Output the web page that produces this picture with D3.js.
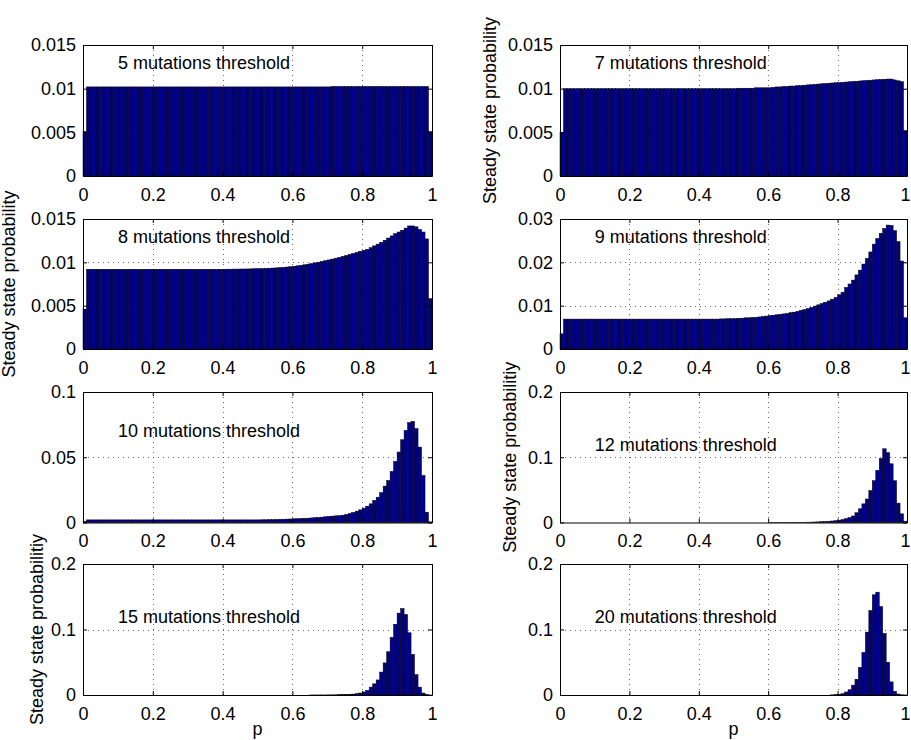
<!DOCTYPE html>
<html><head><meta charset="utf-8">
<script src="https://cdn.jsdelivr.net/npm/d3@7"></script>
<style>body{margin:0;background:#fff}svg{display:block}</style>
</head><body><svg id="c" width="911" height="740"></svg>
<script>
// Steady state probability per bin (100 bins of width 0.01 on p in [0,1])
const prob5 = [
0.0051,0.0102,0.0102,0.0102,0.0102,0.0102,0.0102,0.0102,0.0102,0.0102,
0.0102,0.0102,0.0102,0.0102,0.0102,0.0102,0.0102,0.0102,0.0102,0.0102,
0.0102,0.0102,0.0102,0.0102,0.0102,0.0102,0.0102,0.0102,0.0102,0.0102,
0.0102,0.0102,0.0102,0.0102,0.0102,0.0102,0.0102,0.0102,0.0102,0.0102,
0.0102,0.0102,0.0102,0.0102,0.0102,0.0102,0.0102,0.0102,0.0102,0.0102,
0.0102,0.0102,0.0102,0.0102,0.0102,0.0102,0.0102,0.0102,0.0102,0.0102,
0.0102,0.0102,0.0102,0.0102,0.0102,0.0102,0.0102,0.0102,0.0102,0.0102,
0.0102,0.01025,0.01025,0.01025,0.01025,0.01025,0.01025,0.01025,0.01025,0.01025,
0.01025,0.01025,0.01025,0.01025,0.01025,0.01025,0.01025,0.01025,0.01025,0.01025,
0.01025,0.01025,0.01025,0.01025,0.01025,0.01025,0.01025,0.01025,0.01025,0.0051];
const prob7 = [
0.0050,0.0100,0.0100,0.0100,0.0100,0.0100,0.0100,0.0100,0.0100,0.0100,
0.0100,0.0100,0.0100,0.0100,0.0100,0.0100,0.0100,0.0100,0.0100,0.0100,
0.0100,0.0100,0.0100,0.0100,0.0100,0.0100,0.0100,0.0100,0.0100,0.0100,
0.0100,0.0100,0.0100,0.0100,0.0100,0.0100,0.0100,0.0100,0.0100,0.0100,
0.0100,0.0100,0.0100,0.0100,0.0100,0.0100,0.0100,0.0100,0.0100,0.0100,
0.0100,0.01005,0.01005,0.01005,0.01005,0.01005,0.0101,0.0101,0.0101,0.0101,
0.0101,0.01015,0.0102,0.0102,0.01025,0.01025,0.0103,0.0103,0.01035,0.01035,
0.0104,0.01043,0.01046,0.0105,0.01053,0.01056,0.01059,0.01062,0.01065,0.01068,
0.0107,0.01073,0.01076,0.01079,0.01082,0.01085,0.01088,0.01091,0.01094,0.01097,
0.0110,0.01103,0.01106,0.01108,0.0111,0.0111,0.0110,0.0109,0.0108,0.0052];
const prob8 = [
0.0046,0.0092,0.0092,0.0092,0.0092,0.0092,0.0092,0.0092,0.0092,0.0092,
0.0092,0.0092,0.0092,0.0092,0.0092,0.0092,0.0092,0.0092,0.0092,0.0092,
0.0092,0.0092,0.0092,0.0092,0.0092,0.0092,0.0092,0.0092,0.0092,0.0092,
0.0092,0.0092,0.0092,0.0092,0.0092,0.0092,0.0092,0.0092,0.0092,0.0092,
0.0092,0.00921,0.00921,0.00922,0.00922,0.00923,0.00923,0.00924,0.00925,0.00926,
0.00927,0.00928,0.0093,0.00932,0.00934,0.00936,0.00939,0.00942,0.00946,0.0095,
0.00955,0.0096,0.00966,0.00972,0.00979,0.00986,0.00994,0.01002,0.0101,0.01019,
0.01028,0.01038,0.01048,0.01058,0.01069,0.0108,0.01091,0.01103,0.01115,0.01127,
0.01139,0.0115,0.0117,0.0119,0.0121,0.0123,0.01255,0.0128,0.01305,0.0133,
0.0135,0.0137,0.01395,0.0142,0.0142,0.0141,0.0138,0.0135,0.0127,0.0058];
const prob9 = [
0.0035,0.0069,0.0069,0.0069,0.0069,0.0069,0.0069,0.0069,0.0069,0.0069,
0.0069,0.0069,0.0069,0.0069,0.0069,0.0069,0.0069,0.0069,0.0069,0.0069,
0.0069,0.0069,0.0069,0.0069,0.0069,0.0069,0.0069,0.0069,0.0069,0.0069,
0.0069,0.0069,0.0069,0.0069,0.0069,0.0069,0.0069,0.0069,0.0069,0.0069,
0.0069,0.0069,0.0069,0.0069,0.0069,0.0069,0.00695,0.00695,0.0070,0.0070,
0.0070,0.0071,0.0071,0.0072,0.0072,0.0073,0.0073,0.0074,0.0075,0.0076,
0.0077,0.0078,0.0079,0.0080,0.0081,0.0082,0.0084,0.0085,0.0087,0.0089,
0.0091,0.0093,0.0096,0.0099,0.0102,0.0105,0.0108,0.0111,0.0115,0.0119,
0.0125,0.0131,0.0142,0.0150,0.0159,0.0171,0.0182,0.0196,0.0209,0.0224,
0.0242,0.0255,0.0267,0.0278,0.0286,0.0285,0.0273,0.0248,0.0203,0.0072];
const prob10 = [
0.0010,0.0020,0.0020,0.0020,0.0020,0.0020,0.0020,0.0020,0.0020,0.0020,
0.0020,0.0020,0.0020,0.0020,0.0020,0.0020,0.0020,0.0020,0.0020,0.0020,
0.0020,0.0020,0.0020,0.0020,0.0020,0.0020,0.0020,0.0020,0.0020,0.0020,
0.0020,0.0020,0.0020,0.0020,0.0020,0.0020,0.0020,0.0020,0.0020,0.0020,
0.0020,0.0020,0.0020,0.0020,0.0020,0.0020,0.0020,0.0020,0.0020,0.0020,
0.0020,0.0021,0.0021,0.0022,0.0022,0.0023,0.0024,0.0025,0.0026,0.0027,
0.0028,0.0029,0.0030,0.0032,0.0033,0.0035,0.0037,0.0039,0.0041,0.0044,
0.0047,0.0049,0.0051,0.0053,0.0056,0.0062,0.0069,0.0077,0.0087,0.0097,
0.0110,0.0125,0.0143,0.0169,0.0194,0.0228,0.0279,0.0322,0.0391,0.0468,
0.0540,0.0634,0.0706,0.0765,0.0775,0.0719,0.0578,0.0360,0.0079,0.0005];
const prob12 = [
0,0,0,0,0,0,0,0,0,0,
0,0,0,0,0,0,0,0,0,0,
0,0,0,0,0,0,0,0,0,0,
0,0,0,0,0,0,0,0,0,0,
0,0,0,0,0,0,0,0,0,0,
0,0,0,0,0,0,0,0,0,0,
0.0001,0.0001,0.0001,0.0001,0.0001,0.0002,0.0002,0.0003,0.0003,0.0003,
0.0004,0.0005,0.0006,0.0008,0.0010,0.0012,0.0015,0.0019,0.0023,0.0028,
0.0035,0.0045,0.0058,0.0075,0.0100,0.0150,0.0210,0.0286,0.0360,0.0490,
0.0640,0.0800,0.0980,0.1130,0.1070,0.0900,0.0640,0.0297,0.0133,0.0020];
const prob15 = [
0,0,0,0,0,0,0,0,0,0,
0,0,0,0,0,0,0,0,0,0,
0,0,0,0,0,0,0,0,0,0,
0,0,0,0,0,0,0,0,0,0,
0,0,0,0,0,0,0,0,0,0,
0,0,0,0,0,0,0,0,0,0,
0,0,0,0,0,0.0001,0.0001,0.0001,0.0001,0.0001,
0.0002,0.0002,0.0003,0.0004,0.0005,0.0007,0.0010,0.0014,0.0020,0.0030,
0.0046,0.0070,0.0120,0.0170,0.0230,0.0350,0.0490,0.0660,0.0880,0.1080,
0.1250,0.1320,0.1230,0.0950,0.0620,0.0310,0.0120,0.0030,0.0005,0.0001];
const prob20 = [
0,0,0,0,0,0,0,0,0,0,
0,0,0,0,0,0,0,0,0,0,
0,0,0,0,0,0,0,0,0,0,
0,0,0,0,0,0,0,0,0,0,
0,0,0,0,0,0,0,0,0,0,
0,0,0,0,0,0,0,0,0,0,
0,0,0,0,0,0,0,0,0,0,
0,0,0,0,0,0,0,0,0.0002,0.0005,
0.0010,0.0020,0.0046,0.0080,0.0150,0.0240,0.0420,0.0650,0.0960,0.1290,
0.1530,0.1570,0.1350,0.0940,0.0500,0.0200,0.0056,0.0015,0.0003,0.0001];

const thresholds = [5, 7, 8, 9, 10, 12, 15, 20];
const series = [prob5, prob7, prob8, prob9, prob10, prob12, prob15, prob20];
const yMaxima = [0.015, 0.015, 0.015, 0.03, 0.1, 0.2, 0.2, 0.2];
const yTickValues = [
  [0, 0.005, 0.01, 0.015], [0, 0.005, 0.01, 0.015], [0, 0.005, 0.01, 0.015],
  [0, 0.01, 0.02, 0.03], [0, 0.05, 0.1], [0, 0.1, 0.2], [0, 0.1, 0.2], [0, 0.1, 0.2]];
const yTickLabels = [
  ["0", "0.005", "0.01", "0.015"], ["0", "0.005", "0.01", "0.015"], ["0", "0.005", "0.01", "0.015"],
  ["0", "0.01", "0.02", "0.03"], ["0", "0.05", "0.1"], ["0", "0.1", "0.2"], ["0", "0.1", "0.2"], ["0", "0.1", "0.2"]];
const xTickValues = [0, 0.2, 0.4, 0.6, 0.8, 1];
const xTickLabels = ["0", "0.2", "0.4", "0.6", "0.8", "1"];
const annotationY = [0.013, 0.013, 0.013, 0.026, 0.07, 0.12, 0.12, 0.12];
const annotationX = 0.1;
const yAxisTitles = [null, "Steady state probability", "Steady state probability", null, null,
  "Steady state probabilitiy", "Steady state probabilitiy", null];
const xAxisTitle = "p";

// ---- layout ----
const FONT = '"Liberation Sans", Arial, Helvetica, sans-serif';
const FS = 18;
const cols = [{x: 83, w: 349}, {x: 560, w: 347}];
const rows = [{y: 45, h: 131}, {y: 219, h: 130}, {y: 392, h: 130.5}, {y: 564, h: 131}];
const yTitleX = {1: 496, 2: 15, 5: 516, 6: 43};

const svg = d3.select("#c").attr("font-family", FONT);
const binIndex = d3.range(series[0].length);

series.forEach((vals, k) => {
  const c = cols[k % 2], r = rows[Math.floor(k / 2)];
  const w = c.w, h = r.h;
  const g = svg.append("g").attr("transform", `translate(${c.x},${r.y})`);
  const x = d3.scaleLinear().domain([0, 1]).range([0, w]);
  const xb = d3.scaleBand().domain(binIndex).range([0, w]).paddingInner(0).paddingOuter(0);
  const y = d3.scaleLinear().domain([0, yMaxima[k]]).range([h, 0]);

  // grid (dotted)
  const grid = g.append("g").attr("stroke", "#000").attr("stroke-width", 0.8)
    .attr("stroke-dasharray", "1,4").attr("opacity", 0.75);
  grid.selectAll(".gx").data(xTickValues.slice(1, -1)).join("line")
    .attr("x1", d => Math.round(x(d)) + 0.5).attr("x2", d => Math.round(x(d)) + 0.5)
    .attr("y1", 0).attr("y2", h);
  grid.selectAll(".gy").data(yTickValues[k].slice(1, -1)).join("line")
    .attr("y1", d => Math.round(y(d)) + 0.5).attr("y2", d => Math.round(y(d)) + 0.5)
    .attr("x1", 0).attr("x2", w);

  // bars
  g.append("g").selectAll("rect").data(vals).join("rect")
    .attr("x", (d, i) => xb(i))
    .attr("width", xb.bandwidth())
    .attr("y", d => y(d))
    .attr("height", d => h - y(d))
    .attr("fill", "#00008a")
    .attr("stroke", "#000")
    .attr("stroke-width", 0.5);

  // axes (inward ticks, box)
  const fmtX = d => xTickLabels[xTickValues.indexOf(d)];
  const fmtY = d => yTickLabels[k][yTickValues[k].indexOf(d)];
  const styleAxis = sel => {
    sel.attr("font-size", FS).attr("font-family", FONT);
    sel.selectAll("path,line").attr("stroke", "#000");
    sel.selectAll("text").attr("fill", "#000");
  };
  const bottom = g.append("g").attr("transform", `translate(0,${h})`)
    .call(d3.axisBottom(x).tickValues(xTickValues).tickFormat(fmtX).tickSizeInner(-4).tickSizeOuter(0).tickPadding(12))
    .call(styleAxis);
  if (k % 2 === 1) {
    bottom.selectAll(".tick").filter(d => d === 1).select("text").attr("dx", -2);
  }
  g.append("g")
    .call(d3.axisTop(x).tickValues(xTickValues).tickFormat("").tickSizeInner(-4).tickSizeOuter(0))
    .call(styleAxis);
  g.append("g")
    .call(d3.axisLeft(y).tickValues(yTickValues[k]).tickFormat(fmtY).tickSizeInner(-4).tickSizeOuter(0).tickPadding(7))
    .call(styleAxis);
  g.append("g").attr("transform", `translate(${w},0)`)
    .call(d3.axisRight(y).tickValues(yTickValues[k]).tickFormat("").tickSizeInner(-4).tickSizeOuter(0))
    .call(styleAxis);

  // annotation
  g.append("text").attr("x", x(annotationX)).attr("y", y(annotationY[k])).attr("dy", "0.35em")
    .attr("font-size", FS).attr("fill", "#000")
    .text(`${thresholds[k]} mutations threshold`);

  // y axis title
  if (yAxisTitles[k]) {
    svg.append("text")
      .attr("transform", `translate(${yTitleX[k]},${r.y + h / 2}) rotate(-90)`)
      .attr("text-anchor", "middle").attr("font-size", FS).attr("fill", "#000")
      .text(yAxisTitles[k]);
  }
  // x axis title (bottom row)
  if (Math.floor(k / 2) === 3) {
    svg.append("text").attr("x", c.x + w / 2).attr("y", 735)
      .attr("text-anchor", "middle").attr("font-size", FS).attr("fill", "#000")
      .text(xAxisTitle);
  }
});
</script>
</body></html>
